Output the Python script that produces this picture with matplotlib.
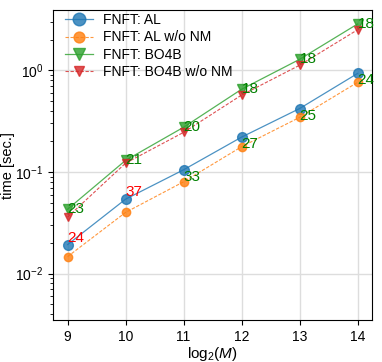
import matplotlib
matplotlib.use('Agg')
import matplotlib.pyplot as plt

# log2(M)
x = [9, 10, 11, 12, 13, 14]

# run times in seconds
al = [0.0193, 0.054, 0.105, 0.22, 0.42, 0.93]
al_wo_nm = [0.0147, 0.040, 0.080, 0.177, 0.344, 0.76]
bo4b = [0.043, 0.13, 0.275, 0.65, 1.28, 2.85]
bo4b_wo_nm = [0.036, 0.122, 0.245, 0.57, 1.12, 2.5]

# annotation labels
al_labels = ['24', '37', '33', '27', '25', '24']
al_label_colors = ['red', 'red', 'green', 'green', 'green', 'green']
bo4b_labels = ['23', '21', '20', '18', '18', '18']
bo4b_label_colors = ['green'] * 6


def main():
    plt.rcParams['font.family'] = ['Liberation Sans', 'DejaVu Sans']
    plt.rcParams['mathtext.fontset'] = 'custom'
    plt.rcParams['mathtext.rm'] = 'Liberation Sans'
    plt.rcParams['mathtext.it'] = 'Liberation Sans:italic'

    fig = plt.figure(figsize=(3.82, 3.62), dpi=100)
    ax = fig.add_axes([0.139, 0.116, 0.835, 0.856])

    ax.semilogy(x, al, '-o', color='#1f77b4', alpha=0.8, lw=0.9, ms=7, label='FNFT: AL')
    ax.semilogy(x, al_wo_nm, '--o', color='#ff7f0e', alpha=0.8, lw=0.8, ms=6,
                dashes=(3, 1.5), label='FNFT: AL w/o NM')
    ax.semilogy(x, bo4b, '-v', color='#2ca02c', alpha=0.8, lw=0.9, ms=7, label='FNFT: BO4B')
    ax.semilogy(x, bo4b_wo_nm, '--v', color='#d62728', alpha=0.8, lw=0.8, ms=6,
                dashes=(3, 1.5), label='FNFT: BO4B w/o NM')

    # red labels sit above the point, green ones just below
    for xi, yi, t, c in zip(x, al, al_labels, al_label_colors):
        va = 'bottom' if c == 'red' else 'top'
        ax.text(xi, yi, t, color=c, fontsize=11, va=va, ha='left')
    for xi, yi, t, c in zip(x, bo4b, bo4b_labels, bo4b_label_colors):
        ax.text(xi, yi, t, color=c, fontsize=11, va='center', ha='left')

    ax.set_xlim(8.75, 14.25)
    ax.set_ylim(0.0035, 3.9)
    ax.grid(True, which='major', color='#dddddd', lw=1)
    ax.set_axisbelow(True)
    ax.tick_params(labelsize=10)
    ax.set_xlabel(r'$\mathrm{log}_2(M)$', fontsize=11, labelpad=1)
    ax.set_ylabel('time [sec.]', fontsize=10.5, labelpad=0)
    ax.legend(loc='upper left', bbox_to_anchor=(0.03, 1.0), frameon=False,
              fontsize=10, markerscale=1.3, handlelength=2.0, handletextpad=0.7,
              borderaxespad=0.0, borderpad=0.2, labelspacing=0.25)

    fig.savefig('out.png', dpi=100)


if __name__ == '__main__':
    main()
